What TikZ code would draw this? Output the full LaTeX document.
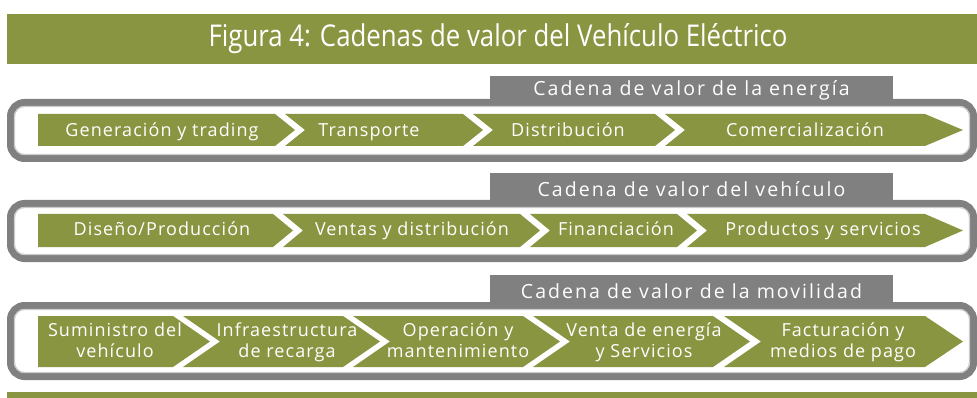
\documentclass[tikz,border=0pt]{standalone}
\usepackage{fontspec}
\setmainfont{Open Sans}
\newfontfamily\titlefont[FakeStretch=0.86]{Open Sans}
\newfontfamily\chevfont[LetterSpace=6]{Open Sans}
\newfontfamily\tabfont[LetterSpace=10.5]{Open Sans}
\usepackage{tikz}

\definecolor{vegreen}{RGB}{138,149,66}
\definecolor{framegray}{RGB}{128,128,128}

\tikzset{
	band/.style={fill=vegreen},
	chev/.style={fill=vegreen},
	frame/.style={draw=framegray, line width=7pt, rounded corners=14pt},
	frameedge/.style={draw=framegray!40, line width=1.2pt, rounded corners=10pt},
	tab/.style={fill=framegray},
	tabtext/.style={text=white, inner sep=0pt, font=\tabfont\fontsize{19.5}{23}\selectfont,
		execute at begin node=\strut},
	lbl/.style={text=white, align=center, inner sep=0pt,
		font=\chevfont\fontsize{18}{21}\selectfont,
		execute at begin node=\strut, execute at end node=\strut}
}

\begin{document}
\begin{tikzpicture}[x=1pt, y=-1pt]
			\useasboundingbox (0,0) rectangle (977,398);
			
			% title and bottom band
			\fill[band] (7,14) rectangle (977,64.5);
			\node (title) [text=white, font=\titlefont\fontsize{30}{34}\selectfont] at (498,39) {Figura 4: Cadenas de valor del Vehículo Eléctrico};
			\fill[band] (7,392) rectangle (977,398);
			
			% energia
			\draw[frame] (10.5,102.5) rectangle (973.5,158.5);
			\draw[frameedge] (14.5,106.5) rectangle (969.5,154.5);
			\fill[tab] (490,76) rectangle (893,103);
			\node (tabE) [tabtext] at (691.5,91.4) {Cadena de valor de la energía};
			\fill[chev] (38,114) -- (275,114) -- (295,130) -- (275,146) -- (38,146) -- cycle;
			\fill[chev] (285,114) -- (463,114) -- (483,130) -- (463,146) -- (285,146) -- (305,130) -- cycle;
			\fill[chev] (473,114) -- (655,114) -- (675,130) -- (655,146) -- (473,146) -- (493,130) -- cycle;
			\fill[chev] (665,114) -- (925,114) -- (963,130) -- (925,146) -- (665,146) -- (685,130) -- cycle;
			\node (gen) [lbl] at (162,132) {Generación y trading};
			\node (trans) [lbl] at (369,132) {Transporte};
			\node (dist) [lbl] at (568,132) {Distribución};
			\node (comer) [lbl] at (805,132) {Comercialización};
			
			% vehiculo
			\draw[frame] (10.5,203.5) rectangle (973.5,258.5);
			\draw[frameedge] (14.5,207.5) rectangle (969.5,254.5);
			\fill[tab] (490,173) rectangle (893,204);
			\node (tabV) [tabtext] at (691.5,192.4) {Cadena de valor del vehículo};
			\fill[chev] (38,214) -- (273,214) -- (293,230.5) -- (273,247) -- (38,247) -- cycle;
			\fill[chev] (283,214) -- (520,214) -- (540,230.5) -- (520,247) -- (283,247) -- (303,230.5) -- cycle;
			\fill[chev] (530,214) -- (677,214) -- (697,230.5) -- (677,247) -- (530,247) -- (550,230.5) -- cycle;
			\fill[chev] (687,214) -- (925,214) -- (963,230.5) -- (925,247) -- (687,247) -- (707,230.5) -- cycle;
			\node (dis) [lbl] at (162,231.8) {Diseño/Producción};
			\node (vent) [lbl] at (412,231.8) {Ventas y distribución};
			\node (fin) [lbl] at (616,231.8) {Financiación};
			\node (prod) [lbl] at (823,231.8) {Productos y servicios};
			
			% movilidad
			\draw[frame] (10.5,305.5) rectangle (973.5,376.5);
			\draw[frameedge] (14.5,309.5) rectangle (969.5,372.5);
			\fill[tab] (490,275) rectangle (893,306);
			\node (tabM) [tabtext] at (691.5,293.9) {Cadena de valor de la movilidad};
			\fill[chev] (38,316) -- (173,316) -- (210,341.5) -- (173,367) -- (38,367) -- cycle;
			\fill[chev] (183,316) -- (343,316) -- (380,341.5) -- (343,367) -- (183,367) -- (220,341.5) -- cycle;
			\fill[chev] (353,316) -- (523,316) -- (560,341.5) -- (523,367) -- (353,367) -- (390,341.5) -- cycle;
			\fill[chev] (533,316) -- (713,316) -- (750,341.5) -- (713,367) -- (533,367) -- (570,341.5) -- cycle;
			\fill[chev] (724,316) -- (925,316) -- (963,341.5) -- (925,367) -- (724,367) -- (761,341.5) -- cycle;
			\node (sum) [lbl] at (115,343) {Suministro del\\vehículo};
			\node (infra) [lbl] at (287,343) {Infraestructura\\de recarga};
			\node (oper) [lbl] at (458,343) {Operación y\\mantenimiento};
			\node (venta) [lbl] at (644,343) {Venta de energía\\y Servicios};
			\node (fact) [lbl] at (843,343) {Facturación y\\medios de pago};
\end{tikzpicture}
\end{document}
